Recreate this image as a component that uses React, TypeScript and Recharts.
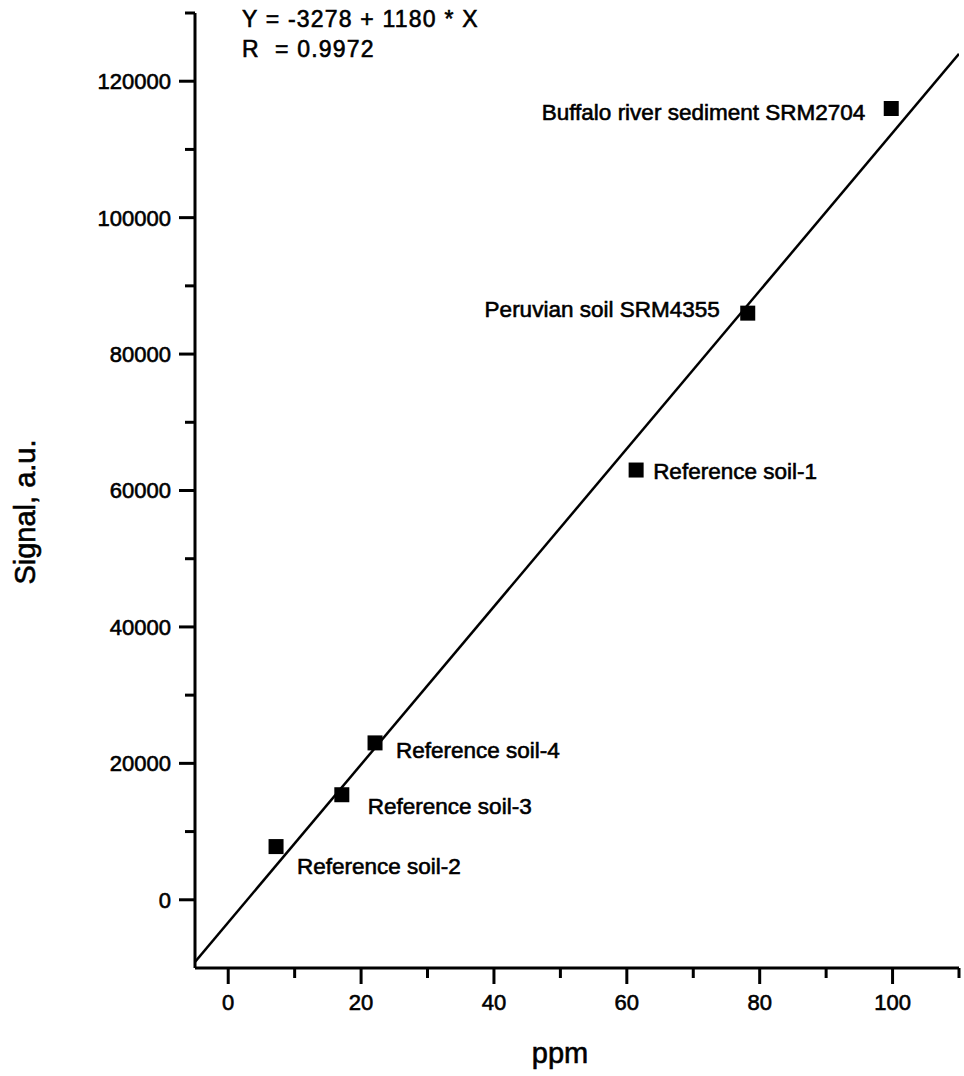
import { Label, Scatter, ScatterChart, XAxis, YAxis } from "recharts";

// calibration samples (ppm vs signal)
const sampleNames = [
  "Reference soil-2",
  "Reference soil-3",
  "Reference soil-4",
  "Reference soil-1",
  "Peruvian soil SRM4355",
  "Buffalo river sediment SRM2704",
];
const samplePpm = [7.2, 17.1, 22.1, 61.4, 78.2, 99.8];
const sampleSignal = [7800, 15400, 23000, 63000, 86000, 116000];

// ends of the fitted line as drawn
const fitPpm = [-5, 110];
const fitSignal = [-9100, 124000];

const xTicks = [0, 10, 20, 30, 40, 50, 60, 70, 80, 90, 100, 110];
const yTicks = [0, 10000, 20000, 30000, 40000, 50000, 60000, 70000, 80000, 90000, 100000, 110000, 120000, 130000];

const equationText = "Y = -3278 + 1180 * X";
const rText = "R  = 0.9972";

const points = sampleNames.map((name, i) => ({ name, x: samplePpm[i], y: sampleSignal[i] }));
const fitLine = fitPpm.map((x, i) => ({ x, y: fitSignal[i] }));

const FONT = "'Liberation Sans', Arial, sans-serif";
// scanned print looks a little heavier than plain Arial
const INK = { fill: "#000", stroke: "#000", strokeWidth: 0.6 };

// where each label sits relative to its marker
const labelPos: Record<string, { dx: number; dy: number; anchor: "start" | "end" }> = {
  "Reference soil-2": { dx: 21, dy: 19, anchor: "start" },
  "Reference soil-3": { dx: 26, dy: 11, anchor: "start" },
  "Reference soil-4": { dx: 21, dy: 7, anchor: "start" },
  "Reference soil-1": { dx: 17, dy: 1, anchor: "start" },
  "Peruvian soil SRM4355": { dx: -28, dy: -4, anchor: "end" },
  "Buffalo river sediment SRM2704": { dx: -26, dy: 3, anchor: "end" },
};

const XTick = (props: any) => {
  const { x, y, payload } = props;
  const major = payload.value % 20 === 0 && payload.value <= 100;
  return (
    <g>
      <line x1={x} x2={x} y1={y} y2={y + (major ? 16 : 10)} stroke="#000" strokeWidth={3} />
      {major && (
        <text x={x} y={y + 42} textAnchor="middle" fontSize={22} fontFamily={FONT} {...INK}>
          {payload.value}
        </text>
      )}
    </g>
  );
};

const YTick = (props: any) => {
  const { x, y, payload } = props;
  const major = payload.value % 20000 === 0 && payload.value <= 120000;
  return (
    <g>
      <line x1={x} x2={x - (major ? 16 : 10)} y1={y} y2={y} stroke="#000" strokeWidth={3} />
      {major && (
        <text x={x - 24} y={y} dy="0.36em" textAnchor="end" fontSize={22} fontFamily={FONT} {...INK}>
          {payload.value}
        </text>
      )}
    </g>
  );
};

const SquareMark = (props: any) => {
  const { cx, cy, payload } = props;
  const p = labelPos[payload.name];
  return (
    <g>
      <rect x={cx - 7.5} y={cy - 7.5} width={15} height={15} fill="#000" />
      <text
        x={cx + p.dx}
        y={cy + p.dy}
        dy="0.36em"
        textAnchor={p.anchor}
        fontSize={22.5}
        fontFamily={FONT}
        {...INK}
      >
        {payload.name}
      </text>
    </g>
  );
};

export default function App() {
  return (
    <div style={{ position: "absolute", left: 0, top: 0, width: 964, height: 1076, background: "#fff" }}>
      <ScatterChart width={964} height={1076} margin={{ top: 13, right: 5, bottom: 0, left: 0 }}>
        <XAxis
          type="number"
          dataKey="x"
          domain={[-5, 110]}
          ticks={xTicks}
          allowDataOverflow
          height={108}
          tickSize={0}
          tickMargin={0}
          tickLine={false}
          axisLine={{ stroke: "#000", strokeWidth: 3 }}
          tick={<XTick />}
          interval={0}
        >
          <Label
            content={() => (
              <text x={560} y={1063} textAnchor="middle" fontSize={29} fontFamily={FONT} {...INK}>
                ppm
              </text>
            )}
          />
        </XAxis>
        <YAxis
          type="number"
          dataKey="y"
          domain={[-10000, 130000]}
          ticks={yTicks}
          allowDataOverflow
          width={195}
          tickSize={0}
          tickMargin={0}
          tickLine={false}
          axisLine={{ stroke: "#000", strokeWidth: 3 }}
          tick={<YTick />}
          interval={0}
        >
          <Label
            content={() => (
              <text
                x={35}
                y={512}
                transform="rotate(-90 35 512)"
                textAnchor="middle"
                fontSize={29}
                fontFamily={FONT}
                {...INK}
              >
                Signal, a.u.
              </text>
            )}
          />
        </YAxis>
        <Scatter
          data={fitLine}
          line={{ stroke: "#000", strokeWidth: 2.5 }}
          shape={() => <g />}
          isAnimationActive={false}
        />
        <Scatter data={points} shape={<SquareMark />} isAnimationActive={false} />
      </ScatterChart>
      <div
        style={{
          position: "absolute",
          left: 242,
          top: 4,
          fontFamily: FONT,
          fontSize: 23,
          letterSpacing: 1.2,
          lineHeight: "30px",
          color: "#000",
          whiteSpace: "pre",
          WebkitTextStroke: "0.6px #000",
        }}
      >
        <div>{equationText}</div>
        <div>{rText}</div>
      </div>
    </div>
  );
}
